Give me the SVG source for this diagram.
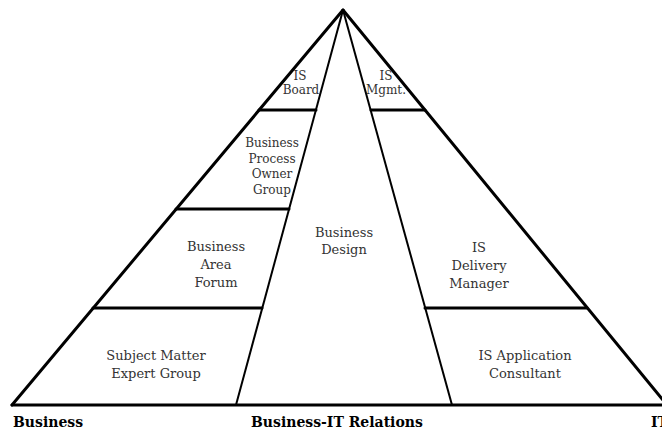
<svg xmlns="http://www.w3.org/2000/svg" width="662" height="430" viewBox="0 0 662 430">
<style>
.o{stroke:#000;stroke-width:3;fill:none;stroke-linecap:round}
.i{stroke:#000;stroke-width:2;fill:none}
.t{font-family:"DejaVu Serif","Liberation Serif",serif;font-size:13px;fill:#333;text-anchor:middle}
.s{font-size:12px}
.b{font-family:"DejaVu Serif","Liberation Serif",serif;font-size:14px;font-weight:bold;fill:#000}
</style>
<rect width="662" height="430" fill="#fff"/>
<g id="connectors">
<line class="o" x1="343" y1="10" x2="12" y2="405"/>
<line class="o" x1="343" y1="10" x2="667" y2="405"/>
<line class="o" x1="12" y1="405" x2="662" y2="405"/>
<line class="i" x1="343" y1="10" x2="236" y2="405"/>
<line class="i" x1="343" y1="10" x2="452" y2="405"/>
<line class="o" x1="259" y1="110" x2="316" y2="110"/>
<line class="o" x1="176" y1="209" x2="289" y2="209"/>
<line class="o" x1="93" y1="308" x2="262" y2="308"/>
<line class="o" x1="371" y1="110" x2="425" y2="110"/>
<line class="o" x1="425" y1="308" x2="587" y2="308"/>
</g>
<g id="is-board"><text class="t s" x="300" y="80">IS</text><text class="t s" x="301" y="94">Board</text></g>
<g id="is-mgmt"><text class="t s" x="386" y="80">IS</text><text class="t s" x="386" y="94">Mgmt.</text></g>
<g id="bpog"><text class="t s" x="272" y="147">Business</text><text class="t s" x="272" y="163">Process</text><text class="t s" x="272" y="178">Owner</text><text class="t s" x="272" y="194">Group</text></g>
<g id="business-design"><text class="t" x="344" y="237">Business</text><text class="t" x="344" y="254">Design</text></g>
<g id="baf"><text class="t" x="216" y="251">Business</text><text class="t" x="216" y="269">Area</text><text class="t" x="216" y="287">Forum</text></g>
<g id="isdm"><text class="t" x="479" y="252">IS</text><text class="t" x="479" y="270">Delivery</text><text class="t" x="479" y="288">Manager</text></g>
<g id="smeg"><text class="t" x="156" y="360">Subject Matter</text><text class="t" x="156" y="378">Expert Group</text></g>
<g id="isac"><text class="t" x="525" y="360">IS Application</text><text class="t" x="525" y="378">Consultant</text></g>
<g id="labels">
<text class="b" x="13" y="427">Business</text>
<text class="b" x="251" y="427">Business-IT Relations</text>
<text class="b" x="651" y="427">IT</text>
</g>
</svg>
